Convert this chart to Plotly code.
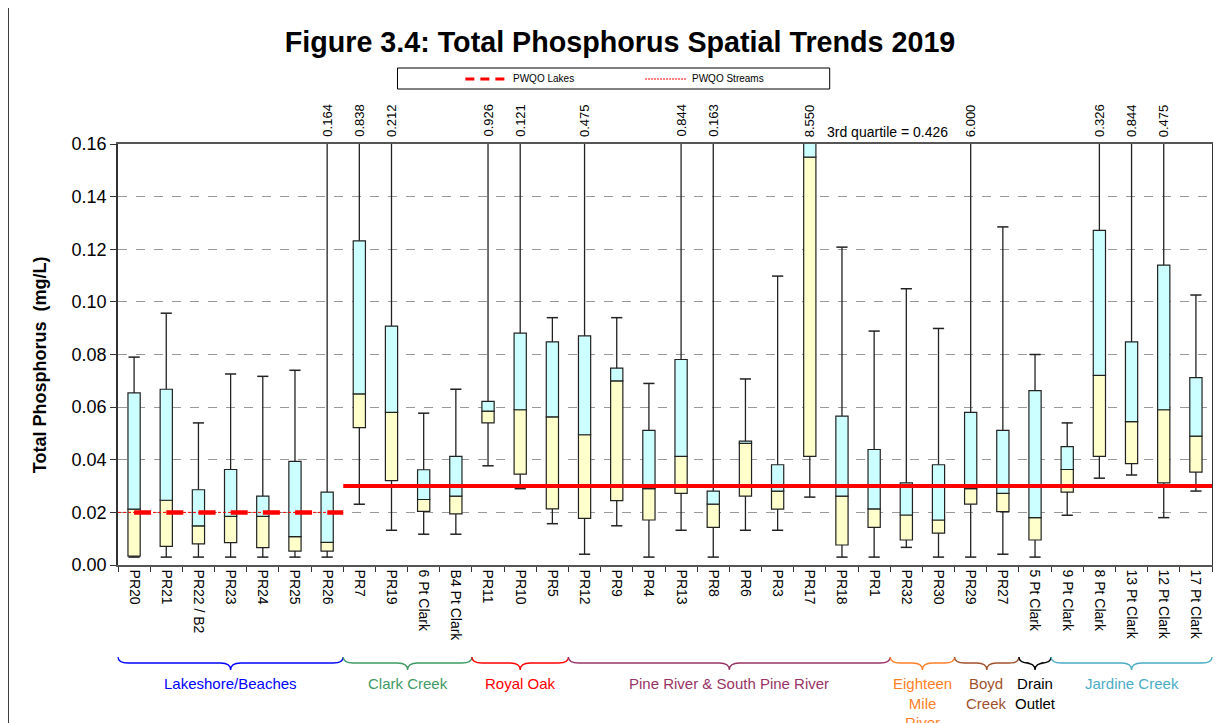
import plotly.graph_objects as go

# ---------------- data ----------------
sites = ["PR20", "PR21", "PR22 / B2", "PR23", "PR24", "PR25", "PR26",
         "PR7", "PR19", "6 Pt Clark", "B4 Pt Clark",
         "PR11", "PR10", "PR5",
         "PR12", "PR9", "PR4", "PR13", "PR8", "PR6", "PR3", "PR17", "PR18", "PR1",
         "PR32", "PR30",
         "PR29", "PR27",
         "5 Pt Clark",
         "9 Pt Clark", "8 Pt Clark", "13 Pt Clark", "12 Pt Clark", "17 Pt Clark"]

whisker_min = [0.003, 0.003, 0.003, 0.003, 0.003, 0.003, 0.003,
               0.0231, 0.0132, 0.0117, 0.0117,
               0.0377, 0.029, 0.0157,
               0.0041, 0.0149, 0.003, 0.0132, 0.003, 0.0132, 0.0132, 0.0258, 0.003, 0.003,
               0.0067, 0.003,
               0.003, 0.0041,
               0.003,
               0.0189, 0.033, 0.0342, 0.018, 0.0281]
q1 = [0.0034, 0.0071, 0.008, 0.0085, 0.0066, 0.0053, 0.0053,
      0.0522, 0.0321, 0.0204, 0.0194,
      0.054, 0.0345, 0.0213,
      0.0177, 0.0245, 0.0171, 0.0272, 0.0143, 0.0262, 0.0212, 0.0413, 0.0076, 0.0143,
      0.0095, 0.0121,
      0.0231, 0.0203,
      0.0095,
      0.0277, 0.0413, 0.0385, 0.0312, 0.0353]
median = [0.0212, 0.0246, 0.0149, 0.0185, 0.0185, 0.0108, 0.0086,
          0.065, 0.058, 0.0249, 0.0262,
          0.0585, 0.059, 0.0563,
          0.0495, 0.070, 0.029, 0.0413, 0.0231, 0.0462, 0.0281, 0.155, 0.0262, 0.0213,
          0.019, 0.0171,
          0.029, 0.0272,
          0.018,
          0.0363, 0.0721, 0.0545, 0.059, 0.049]
q3 = [0.0654, 0.0668, 0.0286, 0.0363, 0.0262, 0.0394, 0.0277,
      0.1232, 0.0908, 0.0362, 0.0413,
      0.0622, 0.0881, 0.0848,
      0.0871, 0.0748, 0.0512, 0.0781, 0.0281, 0.0471, 0.0381, 0.426, 0.0566, 0.0439,
      0.0312, 0.0381,
      0.058, 0.0512,
      0.0663,
      0.045, 0.1272, 0.0848, 0.114, 0.0712]
whisker_max = [0.079, 0.0957, 0.054, 0.0726, 0.0717, 0.074, 0.164,
               0.838, 0.212, 0.0577, 0.0668,
               0.926, 0.121, 0.094,
               0.475, 0.094, 0.069, 0.844, 0.163, 0.0707, 0.1098, 8.550, 0.1208, 0.0889,
               0.105, 0.0899,
               6.000, 0.1285,
               0.080,
               0.054, 0.326, 0.844, 0.475, 0.1026]
# labels printed above the plot for maxima that run off the scale
max_labels = ["", "", "", "", "", "", "0.164",
              "0.838", "0.212", "", "",
              "0.926", "0.121", "",
              "0.475", "", "", "0.844", "0.163", "", "", "8.550", "", "",
              "", "",
              "6.000", "",
              "",
              "", "0.326", "0.844", "0.475", ""]

groups = ["Lakeshore/Beaches", "Clark Creek", "Royal Oak", "Pine River & South Pine River",
          "Eighteen<br>Mile<br>River", "Boyd<br>Creek", "Drain<br>Outlet", "Jardine Creek"]
group_sizes = [7, 4, 3, 10, 2, 2, 1, 5]
group_colors = ["#0000FF", "#3E9A63", "#FF0000", "#993366",
                "#FF7F27", "#A0522D", "#000000", "#4BACC6"]

pwqo_lakes = 0.02
pwqo_streams = 0.03
q3_note = "3rd quartile = 0.426"

y_range = [0, 0.16]

# ---------------- figure ----------------
FONT = "Liberation Sans, Arial, sans-serif"
n = len(sites)
fig = go.Figure()

# whiskers (min -> Q1, Q3 -> max)
wx, wy = [], []
for s, lo, a, b, hi, lab in zip(sites, whisker_min, q1, q3, whisker_max, max_labels):
    top = hi if lab == "" else y_range[1] * 2
    wx += [s, s, None, s, s, None]
    wy += [lo, a, None, b, top, None]
fig.add_trace(go.Scatter(x=wx, y=wy, mode="lines",
                         line=dict(color="#222222", width=1.3),
                         hoverinfo="skip", showlegend=False))

# boxes: lower half yellow, upper half cyan
fig.add_trace(go.Bar(x=sites, y=[m - a for m, a in zip(median, q1)], base=q1,
                     width=0.38, marker=dict(color="#FFFFCC", line=dict(color="#222222", width=1.2)),
                     showlegend=False, name="Q1-Median"))
fig.add_trace(go.Bar(x=sites, y=[b - m for b, m in zip(q3, median)], base=median,
                     width=0.38, marker=dict(color="#CCFFFF", line=dict(color="#222222", width=1.2)),
                     showlegend=False, name="Median-Q3"))

# caps
cx, cy = [], []
for s, lo, hi, lab in zip(sites, whisker_min, whisker_max, max_labels):
    cx.append(s); cy.append(lo)
    if lab == "":
        cx.append(s); cy.append(hi)
fig.add_trace(go.Scatter(x=cx, y=cy, mode="markers",
                         marker=dict(symbol="line-ew", size=8, line=dict(color="#222222", width=1.5)),
                         hoverinfo="skip", showlegend=False, cliponaxis=True))

shapes = []
annotations = []

# the page body adds an 8px offset; positions below are in window pixels
OFF = 8
PL, PR, PT, PB = 118, 1214, 144, 565

def px_x(p):
    return (p - PL) / (PR - PL)

def px_y(p):
    return (PB - p) / (PB - PT)

# PWQO reference lines
shapes.append(dict(type="line", xref="paper", yref="y", x0=0, x1=7 / n,
                   y0=pwqo_lakes, y1=pwqo_lakes, line=dict(color="#FF0000", width=1, dash="3px,2px")))
shapes.append(dict(type="line", xref="paper", yref="y", x0=0.5 / n, x1=7 / n,
                   y0=pwqo_lakes, y1=pwqo_lakes, line=dict(color="#FF0000", width=4.5, dash="17px,15.2px")))
shapes.append(dict(type="line", xref="paper", yref="y", x0=7 / n, x1=1,
                   y0=pwqo_streams, y1=pwqo_streams, line=dict(color="#FF0000", width=4)))

# legend box (manual)
shapes.append(dict(type="rect", xref="paper", yref="paper", x0=px_x(398), x1=px_x(831),
                   y0=px_y(89), y1=px_y(68), line=dict(color="#000000", width=1), fillcolor="white"))
shapes.append(dict(type="line", xref="paper", yref="paper", x0=px_x(466), x1=px_x(509),
                   y0=px_y(79), y1=px_y(79), line=dict(color="#FF0000", width=3, dash="9px,6px")))
shapes.append(dict(type="line", xref="paper", yref="paper", x0=px_x(646), x1=px_x(688),
                   y0=px_y(79), y1=px_y(79), line=dict(color="#FF0000", width=1, dash="2px,1px")))
annotations.append(dict(text="PWQO Lakes", xref="paper", yref="paper", x=px_x(512), y=px_y(79),
                        xanchor="left", yanchor="middle", showarrow=False,
                        font=dict(family=FONT, size=10, color="black")))
annotations.append(dict(text="PWQO Streams", xref="paper", yref="paper", x=px_x(691), y=px_y(79),
                        xanchor="left", yanchor="middle", showarrow=False,
                        font=dict(family=FONT, size=10, color="black")))

# off-scale max labels
for s, lab in zip(sites, max_labels):
    if lab:
        annotations.append(dict(text=lab, x=s, xref="x", y=1, yref="paper", yanchor="bottom",
                                xanchor="center", yshift=5, textangle=-90, showarrow=False,
                                font=dict(family=FONT, size=13, color="black")))
annotations.append(dict(text=q3_note, xref="paper", yref="paper", x=px_x(826), y=px_y(132),
                        xanchor="left", yanchor="middle", showarrow=False,
                        font=dict(family=FONT, size=14, color="black")))

# group braces and labels
yt, ym, yb = px_y(657), px_y(663), px_y(670)
r = 10 / (PR - PL)
start = 0
for g, size, col in zip(groups, group_sizes, group_colors):
    a = start / n
    b = (start + size) / n
    m = (a + b) / 2
    path = (f"M {a},{yt} Q {a},{ym} {a + r},{ym} L {m - r},{ym} Q {m},{ym} {m},{yb} "
            f"Q {m},{ym} {m + r},{ym} L {b - r},{ym} Q {b},{ym} {b},{yt}")
    shapes.append(dict(type="path", xref="paper", yref="paper", path=path,
                       line=dict(color=col, width=1.3)))
    annotations.append(dict(text=g, xref="paper", yref="paper", x=m, y=px_y(673),
                            xanchor="center", yanchor="top", showarrow=False,
                            font=dict(family=FONT, size=15, color=col)))
    start += size

# y-axis title
annotations.append(dict(text="<b>Total Phosphorus  (mg/L)</b>", xref="paper", yref="paper",
                        x=px_x(40), y=px_y(365), xanchor="center", yanchor="middle",
                        textangle=-90, showarrow=False,
                        font=dict(family=FONT, size=18, color="black")))

# outer chart frame (left edge visible)
shapes.append(dict(type="line", xref="paper", yref="paper", x0=px_x(8), x1=px_x(8),
                   y0=px_y(740), y1=px_y(-10), line=dict(color="#333333", width=1.5)))

W, H = 1221 - OFF, 723 - OFF
fig.update_layout(
    width=W, height=H,
    margin=dict(l=PL - OFF, r=1221 - PR, t=PT - OFF, b=723 - PB),
    paper_bgcolor="white", plot_bgcolor="white",
    barmode="overlay",
    title=dict(text="<b>Figure 3.4: Total Phosphorus Spatial Trends 2019</b>",
               x=(620 - OFF) / W, xanchor="center", y=1 - (42 - OFF) / H, yanchor="middle",
               yref="container",
               font=dict(family=FONT, size=28.7, color="black")),
    shapes=shapes, annotations=annotations,
    showlegend=False,
    font=dict(family=FONT, color="black"),
)
fig.update_xaxes(type="category", range=[-0.5, n - 0.5], tickangle=90,
                 tickfont=dict(family=FONT, size=14, color="black"),
                 ticks="outside", ticklen=5, tickson="boundaries", tickcolor="#333333",
                 showline=True, linecolor="#555555", linewidth=1.5, mirror=True,
                 showgrid=False)
fig.update_yaxes(range=y_range, dtick=0.02, tickformat=".2f",
                 tickfont=dict(family=FONT, size=18, color="black"),
                 ticks="outside", ticklen=6, tickcolor="#333333",
                 showline=True, linecolor="#333333", linewidth=1.5, mirror=True,
                 showgrid=True, gridcolor="#999999", griddash="dash", gridwidth=1,
                 zeroline=False)

fig.write_html("out.html")
